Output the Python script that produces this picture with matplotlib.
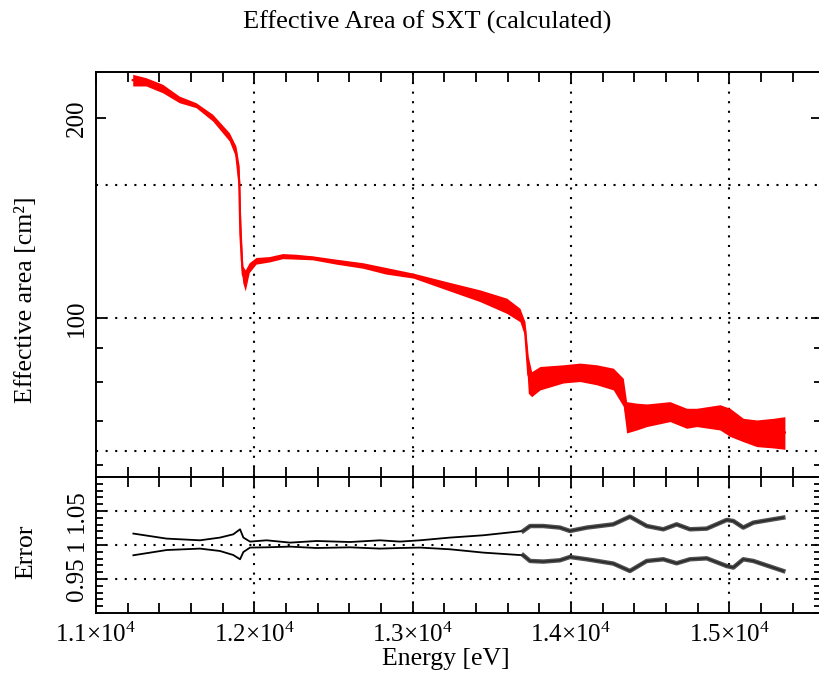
import matplotlib
matplotlib.use('Agg')
import matplotlib.pyplot as plt
from matplotlib.ticker import FixedLocator, MultipleLocator, FuncFormatter, NullFormatter
import numpy as np

plt.rcParams['font.family'] = ['Liberation Serif', 'DejaVu Serif']
plt.rcParams['mathtext.fontset'] = 'custom'
plt.rcParams['mathtext.rm'] = 'Liberation Serif'
plt.rcParams['mathtext.it'] = 'Liberation Serif:italic'

# effective area band (eV, cm^2): upper and lower envelope of the noisy curve
energy = [11232, 11316, 11421, 11526, 11632, 11737, 11842, 11884, 11905, 11912,
          11927, 11943, 11968, 12011, 12095, 12179, 12263, 12369, 12516, 12685,
          12832, 13004, 13215, 13426, 13594, 13678, 13710, 13731, 13752, 13805,
          13952, 14057, 14163, 14268, 14331, 14352, 14416, 14479, 14626, 14731,
          14795, 14942, 15005, 15089, 15174, 15279, 15352]
area_hi = [232.7, 230.0, 224.8, 215.8, 210.9, 202.6, 190.1, 181.5, 169.3, 145.4,
           119.8, 118.1, 121.1, 123.3, 123.7, 125.0, 124.7, 124.0, 122.6, 121.1,
           119.1, 116.8, 113.4, 110.2, 107.1, 103.4, 98.7, 87.4, 83.0, 84.5,
           85.0, 85.5, 85.0, 84.0, 81.1, 74.8, 74.4, 74.2, 74.8, 73.1,
           73.1, 74.0, 73.1, 70.6, 70.2, 70.6, 71.0]
area_lo = [223.5, 223.5, 218.3, 210.9, 207.3, 197.9, 184.7, 174.3, 151.0, 122.3,
           113.0, 109.8, 117.0, 120.5, 121.4, 122.8, 122.6, 122.3, 120.5, 118.8,
           116.4, 114.8, 110.2, 105.8, 101.6, 98.7, 93.7, 77.0, 76.1, 77.9,
           79.8, 80.2, 79.3, 77.9, 73.6, 67.1, 67.8, 68.6, 69.8, 68.2,
           68.6, 67.8, 66.3, 65.1, 64.0, 63.7, 63.4]

# error ratio curves (upper / lower)
err_energy = [11236, 11446, 11657, 11783, 11867, 11910, 11931, 11973, 12078, 12226,
              12394, 12605, 12794, 12920, 13047, 13236, 13447, 13699, 13742, 13826,
              13931, 13994, 14100, 14268, 14373, 14479, 14584, 14668, 14752, 14858,
              14984, 15026, 15089, 15153, 15342]
err_hi = [1.0168, 1.0094, 1.0069, 1.0109, 1.0157, 1.0231, 1.0109, 1.0050, 1.0069, 1.0035,
          1.0059, 1.0044, 1.0069, 1.0050, 1.0069, 1.0109, 1.0143, 1.0206, 1.0279, 1.0279,
          1.0256, 1.0206, 1.0256, 1.0304, 1.0417, 1.0279, 1.0231, 1.0304, 1.0231, 1.0241,
          1.0368, 1.0353, 1.0256, 1.0329, 1.0403]
err_lo = [0.9849, 0.9926, 0.9947, 0.9912, 0.9853, 0.9790, 0.9897, 0.9962, 0.9966, 0.9976,
          0.9956, 0.9966, 0.9947, 0.9956, 0.9962, 0.9937, 0.9888, 0.9849, 0.9765, 0.9756,
          0.9775, 0.9824, 0.9790, 0.9727, 0.9618, 0.9765, 0.9790, 0.9731, 0.9790, 0.9804,
          0.9691, 0.9668, 0.9790, 0.9765, 0.9618]

area_grid = [10 ** 1.8, 100, 10 ** 2.2]
err_grid = [0.95, 1.0, 1.05]
x_grid = [12000, 13000, 14000, 15000]

W, H = 819, 677
fig = plt.figure(figsize=(W / 100, H / 100), dpi=100)
ax1 = fig.add_axes([96 / W, (H - 477) / H, 725 / W, 405 / H])
ax2 = fig.add_axes([96 / W, (H - 613) / H, 725 / W, 136 / H], sharex=ax1)

dots = (0, (1, 3.6))
FS = 18.5

# top panel
e = np.array(energy)
ax1.fill_between(e, area_lo, area_hi, color='red', linewidth=0)
ax1.plot(e, (np.array(area_lo) + np.array(area_hi)) / 2, color='red', lw=1.6)
ax1.set_yscale('log')
ax1.set_ylim(57.6, 234.6)
ax1.set_xlim(11000, 15580)
ax1.yaxis.set_major_locator(FixedLocator([100, 200]))
ax1.yaxis.set_minor_locator(FixedLocator([60, 70, 80, 90]))
ax1.yaxis.set_major_formatter(FuncFormatter(lambda v, p: f'{v:.0f}'))
ax1.yaxis.set_minor_formatter(NullFormatter())
for y in area_grid:
    ax1.axhline(y, color='black', lw=1.5, ls=dots, zorder=0)
ax1.set_ylabel('Effective area [cm²]', fontsize=FS)
ax1.yaxis.set_label_coords((37 - 96) / 725, (477 - 300) / 405)
plt.setp(ax1.get_xticklabels(), visible=False)
fig.text(427 / W, 1 - 22 / H, 'Effective Area of SXT (calculated)',
         fontsize=19, ha='center', va='center')

# bottom panel
ee = np.array(err_energy)
noisy = ee >= 13650
for arr in (err_hi, err_lo):
    a = np.array(arr)
    ax2.plot(ee, a, color='black', lw=1.3)
    ax2.plot(ee[noisy], a[noisy], color='#333333', lw=3.2, alpha=0.85)
ax2.set_ylim(0.9, 1.1)
ax2.yaxis.set_major_locator(FixedLocator([0.95, 1.0, 1.05]))
ax2.yaxis.set_minor_locator(MultipleLocator(0.01))
ax2.yaxis.set_major_formatter(FuncFormatter(lambda v, p: f'{v:g}'))
for y in err_grid:
    ax2.axhline(y, color='black', lw=1.5, ls=dots, zorder=0)
ax2.set_ylabel('Error', fontsize=FS)
ax2.yaxis.set_label_coords((37 - 96) / 725, (613 - 552) / 136)
ax2.set_xlabel('Energy [eV]', fontsize=FS)
ax2.xaxis.set_label_coords((446 - 96) / 725, -(648 - 613) / 136)

ax2.xaxis.set_major_locator(MultipleLocator(1000))
ax2.xaxis.set_minor_locator(MultipleLocator(200))
ax2.xaxis.set_major_formatter(
    FuncFormatter(lambda v, p: r'$%.1f{\times}10^{4}$' % (v / 1e4)))

for ax in (ax1, ax2):
    for x in x_grid:
        ax.axvline(x, color='black', lw=1.5, ls=dots, zorder=0)
    for s in ax.spines.values():
        s.set_linewidth(1.4)
    ax.tick_params(which='both', direction='in', top=True, right=True,
                   width=1.3, labelsize=18)
    ax.tick_params(axis='x', which='both', length=7, pad=7)
    ax.tick_params(axis='y', which='major', length=7)
    ax.tick_params(axis='y', which='minor', length=5)
    for lab in ax.get_yticklabels():
        lab.set_rotation(90)
        lab.set_va('center')
    ax.tick_params(axis='y', pad=6)

fig.savefig('out.png', dpi=100)
